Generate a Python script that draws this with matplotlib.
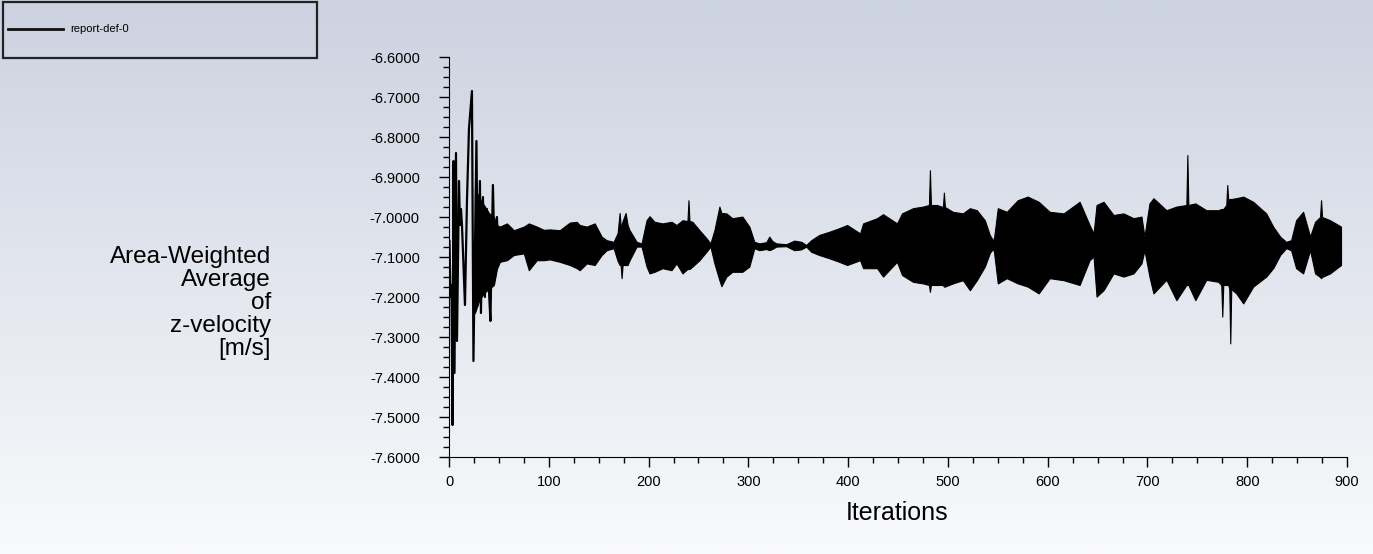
import numpy as np
import matplotlib.pyplot as plt
from matplotlib.patches import Rectangle
from matplotlib.lines import Line2D

plt.rcParams['font.family'] = ['Liberation Sans', 'DejaVu Sans']

early_it = [0.5, 1.5, 2.5, 3.5, 4.5, 5.5, 7, 8, 10, 11, 12, 13, 16, 18, 20, 23,
            24.5, 27.5, 29, 31, 32, 34, 36, 38, 40, 41.5, 44, 46, 48, 50]
early_val = [-7.06, -7.20, -7.17, -7.52, -6.86, -7.39, -6.84, -7.31, -6.91, -7.02,
             -6.98, -7.02, -7.22, -6.96, -6.78, -6.685, -7.36, -6.81, -7.22, -6.91,
             -7.24, -6.95, -7.20, -6.98, -7.18, -7.26, -6.92, -7.14, -7.00, -7.11]

# envelope (max / min) of the dense per-step oscillation
env_it = [26, 30, 35, 40, 45, 48, 51, 58, 65, 75, 80, 88, 95, 101, 111, 121, 128, 131,
          138, 146, 153, 158, 165, 169, 171, 172, 173, 174, 177, 179, 181, 188, 193,
          198, 201, 206, 214, 223, 228, 234, 239, 240, 241, 244, 251, 258, 262, 266,
          271, 273, 278, 284, 294, 301, 306, 311, 318, 321, 324, 328, 338, 346, 353,
          358, 363, 371, 381, 391, 399, 412, 415, 429, 435, 449, 454, 465, 475, 481,
          482, 483, 489, 495, 496, 497, 505, 515, 522, 529, 537, 542, 544, 546, 550,
          559, 570, 580, 591, 602, 616, 632, 642, 646, 649, 656, 666, 676, 686, 694,
          697, 702, 706, 719, 729, 739, 740, 741, 748, 759, 771, 774, 775, 776, 779,
          780, 781, 782, 783, 784, 789, 796, 806, 819, 826, 833, 839, 844, 849, 856,
          863, 868, 873, 874, 875, 883, 894]
env_hi = [-6.93, -6.95, -6.97, -6.99, -7.00, -7.02, -7.024, -7.016, -7.033, -7.024,
          -7.016, -7.024, -7.032, -7.031, -7.033, -7.014, -7.012, -7.02, -7.024,
          -7.016, -7.049, -7.058, -7.062, -7.04, -6.99, -7.02, -7.02, -7.01, -6.99,
          -7.02, -7.033, -7.062, -7.066, -7.008, -6.998, -7.012, -7.016, -7.012,
          -7.02, -7.008, -7.01, -6.958, -7.01, -7.012, -7.033, -7.053, -7.066,
          -7.033, -6.974, -6.99, -6.991, -7.003, -6.999, -7.024, -7.062, -7.066,
          -7.063, -7.049, -7.06, -7.066, -7.068, -7.059, -7.062, -7.07, -7.058,
          -7.045, -7.037, -7.028, -7.02, -7.041, -7.016, -7.003, -6.993, -7.016,
          -6.991, -6.978, -6.974, -6.97, -6.883, -6.97, -6.97, -6.975, -6.939,
          -6.975, -6.987, -6.991, -6.978, -6.983, -7.008, -7.045, -7.053, -7.058,
          -6.978, -6.987, -6.958, -6.949, -6.962, -6.987, -6.991, -6.962, -7.02,
          -7.041, -6.97, -6.962, -6.995, -6.991, -7.003, -6.999, -7.049, -6.966,
          -6.953, -6.983, -6.974, -6.97, -6.845, -6.97, -6.966, -6.983, -6.983,
          -6.98, -6.98, -6.98, -6.97, -6.92, -6.96, -6.955, -6.955, -6.955, -6.953,
          -6.949, -6.962, -6.991, -7.024, -7.049, -7.062, -7.058, -7.008, -6.987,
          -7.049, -7.012, -7.0, -6.958, -7.0, -7.008, -7.024]
env_lo = [-7.24, -7.21, -7.19, -7.18, -7.17, -7.13, -7.112, -7.108, -7.095, -7.091,
          -7.133, -7.108, -7.108, -7.106, -7.112, -7.12, -7.128, -7.133, -7.116,
          -7.12, -7.095, -7.083, -7.078, -7.11, -7.12, -7.12, -7.153, -7.12, -7.12,
          -7.12, -7.108, -7.074, -7.074, -7.124, -7.141, -7.137, -7.128, -7.133,
          -7.116, -7.141, -7.13, -7.13, -7.13, -7.124, -7.108, -7.087, -7.074,
          -7.116, -7.158, -7.173, -7.149, -7.137, -7.137, -7.124, -7.078, -7.083,
          -7.08, -7.083, -7.08, -7.074, -7.073, -7.083, -7.081, -7.074, -7.087,
          -7.095, -7.103, -7.112, -7.12, -7.108, -7.128, -7.128, -7.149, -7.112,
          -7.145, -7.162, -7.166, -7.17, -7.187, -7.17, -7.17, -7.17, -7.174,
          -7.174, -7.166, -7.158, -7.183, -7.158, -7.124, -7.09, -7.083, -7.083,
          -7.166, -7.153, -7.166, -7.174, -7.191, -7.153, -7.158, -7.17, -7.108,
          -7.099, -7.199, -7.183, -7.141, -7.149, -7.141, -7.116, -7.083, -7.149,
          -7.191, -7.157, -7.208, -7.17, -7.17, -7.17, -7.208, -7.157, -7.162,
          -7.17, -7.249, -7.17, -7.17, -7.17, -7.17, -7.18, -7.316, -7.18, -7.191,
          -7.216, -7.174, -7.149, -7.128, -7.095, -7.078, -7.083, -7.128, -7.141,
          -7.083, -7.141, -7.15, -7.153, -7.15, -7.141, -7.12]

yticks = [-6.6, -6.7, -6.8, -6.9, -7.0, -7.1, -7.2, -7.3, -7.4, -7.5, -7.6]
xticks = [0, 100, 200, 300, 400, 500, 600, 700, 800, 900]

fig = plt.figure(figsize=(13.73, 5.54), dpi=100)

# bluish-grey to white background gradient
bg = fig.add_axes([0, 0, 1, 1], zorder=-10)
grad = np.linspace(0, 1, 256).reshape(-1, 1)
top = np.array([204, 210, 224]) / 255
bot = np.array([249, 250, 252]) / 255
img = top[None, None, :] * (1 - grad[:, :, None]) + bot[None, None, :] * grad[:, :, None]
bg.imshow(img, aspect='auto', extent=[0, 1, 0, 1])
bg.axis('off')

ax = fig.add_axes([449 / 1373, 1 - 457 / 554, 898 / 1373, 400 / 554])
ax.patch.set_alpha(0)

ax.fill_between(env_it, env_lo, env_hi, color='black', lw=0.8)
ax.plot(early_it, early_val, color='black', lw=1.6)

ax.set_xlim(0, 900)
ax.set_ylim(-7.6, -6.6)
ax.set_xticks(xticks)
ax.set_yticks(yticks)
ax.set_xticks(np.arange(0, 901, 25), minor=True)
ax.set_yticks(np.arange(-7.6, -6.59, 0.025), minor=True)
ax.set_yticklabels(['%.4f' % v for v in yticks])
ax.tick_params(which='major', length=7, width=1, labelsize=10.5)
ax.tick_params(which='minor', length=4, width=1)
ax.tick_params(axis='y', which='major', pad=14)
ax.tick_params(axis='x', which='major', pad=6)
for s in ['top', 'right']:
    ax.spines[s].set_visible(False)

fig.text(897 / 1373, 1 - 513 / 554, 'Iterations', ha='center', va='center', fontsize=18)
fig.text(271 / 1373, 1 - 303 / 554, 'Area-Weighted\nAverage\nof\nz-velocity\n[m/s]',
         ha='right', va='center', fontsize=17.5, linespacing=1.06)

# legend box in the top-left corner
fig.patches.append(Rectangle((3 / 1373, 1 - 58 / 554), 314 / 1373, 56 / 554,
                             transform=fig.transFigure, fill=False, ec='#222222', lw=1.6))
fig.lines.append(Line2D([8 / 1373, 63 / 1373], [1 - 29 / 554, 1 - 29 / 554],
                        transform=fig.transFigure, color='#111111', lw=2))
fig.text(70 / 1373, 1 - 29 / 554, 'report-def-0', ha='left', va='center', fontsize=8)

fig.savefig('out.png', dpi=100)
